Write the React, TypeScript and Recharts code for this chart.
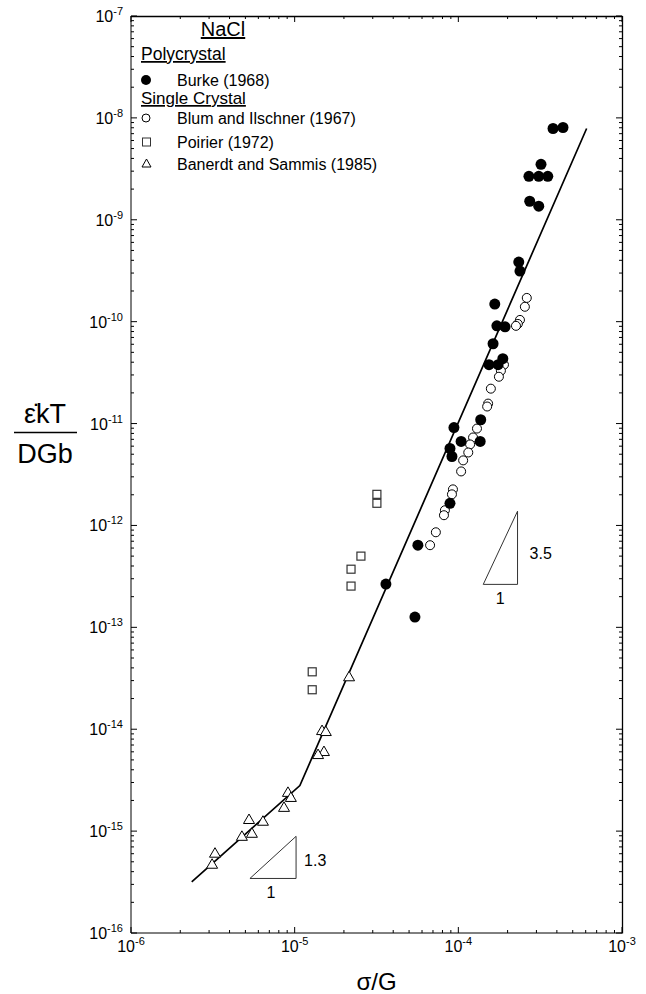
import { ScatterChart, Scatter, XAxis, YAxis, Legend, ReferenceDot } from "recharts"

const FONT = '"Liberation Sans", Arial, sans-serif'

// Burke (1968), polycrystal
const burke = [
  { x: 4.36e-4, y: 8.05e-9 }, { x: 3.79e-4, y: 7.87e-9 }, { x: 3.2e-4, y: 3.5e-9 },
  { x: 2.7e-4, y: 2.67e-9 }, { x: 3.1e-4, y: 2.67e-9 }, { x: 3.52e-4, y: 2.67e-9 },
  { x: 2.73e-4, y: 1.52e-9 }, { x: 3.1e-4, y: 1.36e-9 }, { x: 2.34e-4, y: 3.85e-10 },
  { x: 2.38e-4, y: 3.14e-10 }, { x: 1.67e-4, y: 1.49e-10 }, { x: 1.72e-4, y: 9.1e-11 },
  { x: 1.93e-4, y: 8.9e-11 }, { x: 1.63e-4, y: 6.07e-11 }, { x: 1.54e-4, y: 3.78e-11 },
  { x: 1.75e-4, y: 3.78e-11 }, { x: 1.87e-4, y: 4.33e-11 }, { x: 1.37e-4, y: 1.09e-11 },
  { x: 9.4e-5, y: 9.14e-12 }, { x: 1.04e-4, y: 6.67e-12 }, { x: 1.36e-4, y: 6.67e-12 },
  { x: 8.89e-5, y: 5.69e-12 }, { x: 9.14e-5, y: 4.75e-12 }, { x: 8.89e-5, y: 1.65e-12 },
  { x: 5.66e-5, y: 6.4e-13 }, { x: 3.61e-5, y: 2.66e-13 }, { x: 5.43e-5, y: 1.26e-13 },
]

// Blum and Ilschner (1967)
const blum = [
  { x: 2.62e-4, y: 1.71e-10 }, { x: 2.55e-4, y: 1.4e-10 }, { x: 2.38e-4, y: 1.04e-10 },
  { x: 2.31e-4, y: 9.5e-11 }, { x: 2.25e-4, y: 9.1e-11 }, { x: 1.9e-4, y: 3.78e-11 },
  { x: 1.82e-4, y: 3.3e-11 }, { x: 1.77e-4, y: 2.88e-11 }, { x: 1.58e-4, y: 2.2e-11 },
  { x: 1.52e-4, y: 1.57e-11 }, { x: 1.5e-4, y: 1.47e-11 }, { x: 1.3e-4, y: 8.93e-12 },
  { x: 1.23e-4, y: 7.3e-12 }, { x: 1.18e-4, y: 6.24e-12 }, { x: 1.15e-4, y: 5.2e-12 },
  { x: 1.07e-4, y: 4.35e-12 }, { x: 1.04e-4, y: 3.39e-12 }, { x: 9.27e-5, y: 2.26e-12 },
  { x: 9.14e-5, y: 2.02e-12 }, { x: 8.28e-5, y: 1.41e-12 }, { x: 8.17e-5, y: 1.26e-12 },
  { x: 7.29e-5, y: 8.57e-13 }, { x: 6.72e-5, y: 6.4e-13 },
]

// Poirier (1972)
const poirier = [
  { x: 3.18e-5, y: 2.02e-12 }, { x: 3.18e-5, y: 1.65e-12 }, { x: 2.54e-5, y: 5.0e-13 },
  { x: 2.21e-5, y: 3.72e-13 }, { x: 2.21e-5, y: 2.54e-13 }, { x: 1.28e-5, y: 3.66e-14 },
  { x: 1.28e-5, y: 2.44e-14 },
]

// Banerdt and Sammis (1985)
const banerdt = [
  { x: 2.15e-5, y: 3.27e-14 }, { x: 1.47e-5, y: 9.7e-15 }, { x: 1.55e-5, y: 9.49e-15 },
  { x: 1.51e-5, y: 6.04e-15 }, { x: 1.39e-5, y: 5.64e-15 }, { x: 9.1e-6, y: 2.4e-15 },
  { x: 9.48e-6, y: 2.14e-15 }, { x: 8.61e-6, y: 1.71e-15 }, { x: 5.26e-6, y: 1.3e-15 },
  { x: 6.4e-6, y: 1.25e-15 }, { x: 4.76e-6, y: 8.89e-16 }, { x: 5.48e-6, y: 9.52e-16 },
  { x: 3.26e-6, y: 6.07e-16 }, { x: 3.13e-6, y: 4.73e-16 },
]

// fitted power law (n = 1.3 below, n = 3.5 above)
const fitLine = [
  { x: 2.35e-6, y: 3.18e-16 },
  { x: 1.076e-5, y: 2.8e-15 },
  { x: 6.08e-4, y: 7.87e-9 },
]

// slope triangles
const slopeHigh = [
  { x: 1.42e-4, y: 2.64e-13 }, { x: 2.3e-4, y: 2.64e-13 }, { x: 2.3e-4, y: 1.38e-12 }, { x: 1.42e-4, y: 2.64e-13 },
]
const slopeLow = [
  { x: 5.33e-6, y: 3.43e-16 }, { x: 1.02e-5, y: 3.43e-16 }, { x: 1.02e-5, y: 8.89e-16 }, { x: 5.33e-6, y: 3.43e-16 },
]

const xDomain = [1e-6, 1e-3]
const yDomain = [1e-16, 1e-7]

// decades plus 2..9 minor ticks
function logTicks(lo: number, hi: number) {
  const out: number[] = []
  for (let e = lo; e < hi; e++) {
    for (let m = 1; m <= 9; m++) out.push(m * Math.pow(10, e))
  }
  out.push(Math.pow(10, hi))
  return out
}
const xTicks = logTicks(-6, -3)
const yTicks = logTicks(-16, -7)

const expOf = (v: number) => Math.round(Math.log10(v))
const isMajor = (v: number) => Math.abs(Math.log10(v) - expOf(v)) < 1e-6
const tickLen = (v: number) => (isMajor(v) ? 6 : 3)

// chart layout
const W = 646
const H = 994
const MARGIN = { top: 16, right: 24, bottom: 0, left: 0 }
const Y_AXIS_W = 131
const X_AXIS_H = 61
const PLOT = {
  left: MARGIN.left + Y_AXIS_W,
  top: MARGIN.top,
  right: W - MARGIN.right,
  bottom: H - MARGIN.bottom - X_AXIS_H,
}

const AXIS = "#000"

const BottomTick = (props: any) => {
  const { x, y, payload } = props
  const v = payload.value
  return (
    <g>
      <line x1={x} x2={x} y1={y} y2={y - tickLen(v)} stroke={AXIS} />
      {isMajor(v) && (
        <text x={x} y={y + 19} textAnchor="middle" fontSize={16} fontFamily={FONT} fill="#000">
          10<tspan dy={-7} fontSize={11}>{expOf(v)}</tspan>
        </text>
      )}
    </g>
  )
}

const LeftTick = (props: any) => {
  const { x, y, payload } = props
  const v = payload.value
  return (
    <g>
      <line x1={x} x2={x + tickLen(v)} y1={y} y2={y} stroke={AXIS} />
      {isMajor(v) && (
        <text x={x - 8} y={y + 6} textAnchor="end" fontSize={16} fontFamily={FONT} fill="#000">
          10<tspan dy={-7} fontSize={11}>{expOf(v)}</tspan>
        </text>
      )}
    </g>
  )
}

// top and right edges of the frame, with inward ticks matching the log axes
const lx = (v: number) =>
  PLOT.left + ((Math.log10(v) - Math.log10(xDomain[0])) / (Math.log10(xDomain[1]) - Math.log10(xDomain[0]))) * (PLOT.right - PLOT.left)
const ly = (v: number) =>
  PLOT.bottom - ((Math.log10(v) - Math.log10(yDomain[0])) / (Math.log10(yDomain[1]) - Math.log10(yDomain[0]))) * (PLOT.bottom - PLOT.top)

const FrameOverlay = () => (
  <svg
    width={W}
    height={H}
    viewBox={`0 0 ${W} ${H}`}
    style={{ position: "absolute", left: 0, top: 0, pointerEvents: "none", zIndex: 5 }}
  >
    <line x1={PLOT.left} x2={PLOT.right + 0.5} y1={PLOT.top + 0.5} y2={PLOT.top + 0.5} stroke="#000" strokeWidth={1.3} />
    <line x1={PLOT.right + 0.5} x2={PLOT.right + 0.5} y1={PLOT.top} y2={PLOT.bottom + 0.5} stroke="#000" strokeWidth={1.3} />
    {xTicks.map((v) => (
      <line key={`t${v}`} x1={lx(v)} x2={lx(v)} y1={PLOT.top} y2={PLOT.top + tickLen(v)} stroke="#000" />
    ))}
    {yTicks.map((v) => (
      <line key={`r${v}`} x1={PLOT.right} x2={PLOT.right - tickLen(v)} y1={ly(v)} y2={ly(v)} stroke="#000" />
    ))}
  </svg>
)

const FilledDot = (p: any) => <circle cx={p.cx} cy={p.cy} r={5.5} fill="#000" />
const OpenDot = (p: any) => <circle cx={p.cx} cy={p.cy} r={4.5} fill="#fff" stroke="#000" strokeWidth={1} />
const SquareMark = (p: any) => (
  <rect x={p.cx - 4} y={p.cy - 4} width={8} height={8} fill="#fff" stroke="#333" strokeWidth={1.2} />
)
const TriMark = (p: any) => (
  <polygon
    points={`${p.cx},${p.cy - 5.5} ${p.cx - 5.5},${p.cy + 4} ${p.cx + 5.5},${p.cy + 4}`}
    fill="#fff"
    stroke="#000"
    strokeWidth={1}
  />
)
const NoMark = () => <g />

const YTitle = (props: any) => {
  const vb = props.viewBox || { x: 0, y: 16, width: 131, height: 917 }
  const cx = 45
  const cy = vb.y + vb.height / 2 - 42
  return (
    <g fontFamily={FONT} fill="#000">
      <text x={cx} y={cy - 10} textAnchor="middle" fontSize={27}>ε̇kT</text>
      <line x1={cx - 31} x2={cx + 32} y1={cy} y2={cy} stroke="#000" strokeWidth={1.5} />
      <text x={cx} y={cy + 30} textAnchor="middle" fontSize={27}>DGb</text>
    </g>
  )
}

const XTitle = (props: any) => {
  const vb = props.viewBox
  return (
    <text x={vb.x + vb.width / 2} y={vb.y + 57} textAnchor="middle" fontSize={24} fontFamily={FONT} fill="#000">
      σ/G
    </text>
  )
}

const LegendBox = () => (
  <svg width={400} height={180} style={{ overflow: "visible", display: "block" }}>
    <g fontFamily={FONT} fill="#000">
      <text x={223} y={36} textAnchor="middle" fontSize={20} style={{ textDecoration: "underline" }}>NaCl</text>
      <text x={141} y={60} fontSize={17.5} style={{ textDecoration: "underline" }}>Polycrystal</text>
      <circle cx={146} cy={80} r={5} fill="#000" />
      <text x={177} y={86} fontSize={16}>Burke (1968)</text>
      <text x={141} y={104} fontSize={17} style={{ textDecoration: "underline" }}>Single Crystal</text>
      <circle cx={146} cy={118} r={4} fill="#fff" stroke="#000" />
      <text x={177} y={124} fontSize={16}>Blum and Ilschner (1967)</text>
      <rect x={142.5} y={138} width={8} height={8} fill="#fff" stroke="#333" />
      <text x={177} y={148} fontSize={16}>Poirier (1972)</text>
      <polygon points="146.5,159 142,167 151,167" fill="#fff" stroke="#000" />
      <text x={177} y={170} fontSize={16}>Banerdt and Sammis (1985)</text>
    </g>
  </svg>
)

export default function App() {
  return (
    <div style={{ position: "absolute", left: 0, top: 0, width: W, height: H, background: "#fff" }}>
      <ScatterChart width={W} height={H} margin={MARGIN}>
        <XAxis
          dataKey="x"
          type="number"
          scale="log"
          domain={xDomain}
          allowDataOverflow
          ticks={xTicks}
          interval={0}
          tickSize={0}
          tickMargin={0}
          tickLine={false}
          tick={BottomTick}
          axisLine={{ stroke: AXIS }}
          height={X_AXIS_H}
          label={{ content: XTitle }}
        />
        <YAxis
          dataKey="y"
          type="number"
          scale="log"
          domain={yDomain}
          allowDataOverflow
          ticks={yTicks}
          interval={0}
          tickSize={0}
          tickMargin={0}
          tickLine={false}
          tick={LeftTick}
          axisLine={{ stroke: AXIS }}
          width={Y_AXIS_W}
          label={{ content: YTitle }}
        />
        <Legend
          layout="horizontal"
          verticalAlign="middle"
          align="center"
          content={LegendBox}
          wrapperStyle={{ position: "absolute", left: 0, top: 0, width: 400, height: 180 }}
        />
        <Scatter data={fitLine} line={{ stroke: "#000", strokeWidth: 1.7 }} shape={NoMark} legendType="none" isAnimationActive={false} />
        <Scatter data={slopeHigh} line={{ stroke: "#333", strokeWidth: 1 }} shape={NoMark} legendType="none" isAnimationActive={false} />
        <Scatter data={slopeLow} line={{ stroke: "#333", strokeWidth: 1 }} shape={NoMark} legendType="none" isAnimationActive={false} />
        <Scatter name="Poirier (1972)" data={poirier} shape={SquareMark} isAnimationActive={false} />
        <Scatter name="Banerdt and Sammis (1985)" data={banerdt} shape={TriMark} isAnimationActive={false} />
        <Scatter name="Blum and Ilschner (1967)" data={blum} shape={OpenDot} isAnimationActive={false} />
        <Scatter name="Burke (1968)" data={burke} shape={FilledDot} isAnimationActive={false} />
        <ReferenceDot x={2.3e-4} y={5.35e-13} r={0} stroke="none" fill="none"
          label={{ value: "3.5", position: "right", offset: 12, fontSize: 16, fill: "#000", fontFamily: FONT }} />
        <ReferenceDot x={1.8e-4} y={2.64e-13} r={0} stroke="none" fill="none"
          label={{ value: "1", position: "bottom", offset: 8, fontSize: 16, fill: "#000", fontFamily: FONT }} />
        <ReferenceDot x={1.02e-5} y={5.18e-16} r={0} stroke="none" fill="none"
          label={{ value: "1.3", position: "right", offset: 8, fontSize: 16, fill: "#000", fontFamily: FONT }} />
        <ReferenceDot x={7.16e-6} y={3.43e-16} r={0} stroke="none" fill="none"
          label={{ value: "1", position: "bottom", offset: 8, fontSize: 16, fill: "#000", fontFamily: FONT }} />
      </ScatterChart>
      <FrameOverlay />
    </div>
  )
}
